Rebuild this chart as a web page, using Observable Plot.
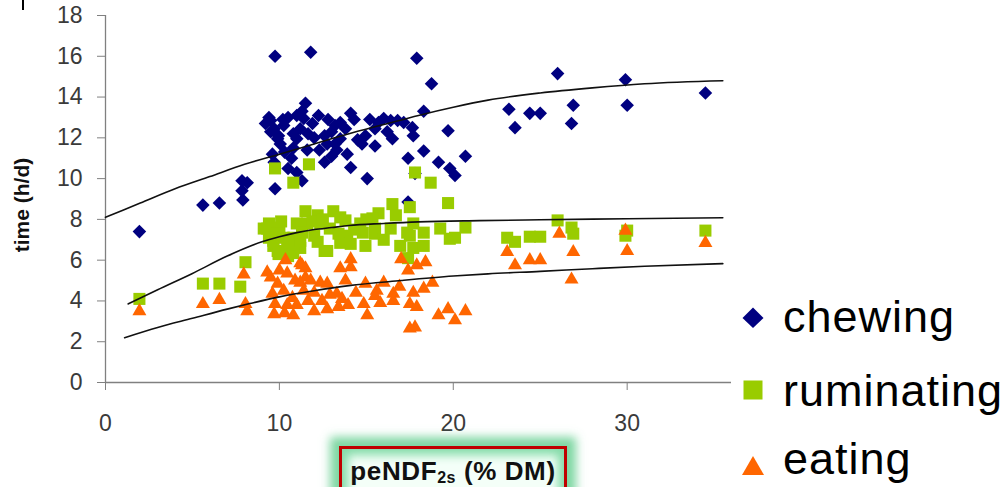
<!DOCTYPE html>
<html>
<head>
<meta charset="utf-8">
<script src="https://cdn.jsdelivr.net/npm/d3@7"></script>
<script src="https://cdn.jsdelivr.net/npm/@observablehq/plot@0.6"></script>
<style>
  html, body { margin: 0; padding: 0; background: #fff; }
  #wrap { position: relative; width: 1004px; height: 487px; overflow: hidden; font-family: "Liberation Sans", Arial, sans-serif; }
  #chart { position: absolute; left: 0; top: 0; }
  .ylab { position: absolute; left: 22px; top: 205px; transform: translate(-50%, -50%) rotate(-90deg); font-weight: bold; font-size: 21px; color: #111; white-space: nowrap; }
  .legrow { position: absolute; left: 783px; font-size: 45px; line-height: 45px; letter-spacing: 1px; color: #000; white-space: nowrap; }
  .legsym { position: absolute; }
  .xbox { position: absolute; left: 339px; top: 446px; width: 222px; height: 60px; border: 3px solid #c00000; background: #f4fff8;
          box-shadow: 0 0 9px 9px rgba(95, 205, 140, 0.8), inset 0 0 10px 6px rgba(120, 215, 160, 0.9); }
  .xlab { position: absolute; left: 339px; width: 228px; top: 458px; text-align: center; font-weight: bold; font-size: 26px; line-height: 26px; letter-spacing: 0.6px; color: #111; white-space: nowrap; }
  .xlab sub { font-size: 16px; vertical-align: -3px; }
  .corner { position: absolute; left: 22px; top: 0; width: 2px; height: 10px; background: #000; }
</style>
</head>
<body>
<div id="wrap">
  <div id="chart"></div>
  <div class="corner"></div>
  <div class="ylab">time (h/d)</div>
  <div class="xbox"></div>
  <div class="xlab">peNDF<sub>2s</sub> (% DM)</div>
  <svg class="legsym" style="left:740px;top:305px" width="26" height="26"><path d="M13,2.5 L23.5,13 L13,23 L2.5,13 Z" fill="#000080"/></svg>
  <div class="legrow" style="top:294px">chewing</div>
  <svg class="legsym" style="left:742px;top:379px" width="22" height="22"><rect x="1.5" y="1.5" width="19" height="19" fill="#99cc00"/></svg>
  <div class="legrow" style="top:368px">ruminating</div>
  <svg class="legsym" style="left:740px;top:454px" width="26" height="24"><path d="M13,2 L24,21 L2,21 Z" fill="#ff6600"/></svg>
  <div class="legrow" style="top:436px">eating</div>
</div>
<script>
// ---- Data ----
const xTicks = [0, 10, 20, 30];
const yTicks = [0, 2, 4, 6, 8, 10, 12, 14, 16, 18];

// chewing (navy diamonds)
const chewX = [1.95,5.6,6.55,7.9,7.85,8.15,7.85,9.75,9.75,11.8,9.4,9.2,9.7,9.5,10.25,9.95,10.05,9.9,11.0,11.5,11.4,11.2,11.65,12.25,11.0,10.8,10.7,11.6,10.5,11.0,11.3,9.7,12.6,12.75,12.6,13.2,13.5,14.1,13.8,13.5,13.2,13.3,13.9,14.1,15.05,14.95,14.75,15.5,15.5,15.7,16.0,16.4,16.8,17.15,17.65,17.7,16.5,18.3,18.75,17.9,19.7,17.4,18.3,19.15,19.8,20.1,20.7,17.8,17.4,26.0,29.9,23.2,23.55,24.4,25.0,26.9,26.8,30.0,34.5,9.5,10.5,10.8,12.0,12.3,13.0,14.3,11.9,10.3,10.2,12.8,13.0,14.5,16.2,15.2,11.3,9.6];
const chewY = [7.4,8.7,8.8,8.95,9.4,9.8,9.9,9.5,16.0,16.2,13.0,12.7,12.45,12.85,12.6,12.1,11.7,11.95,13.1,13.7,12.95,12.45,12.2,13.1,11.95,11.5,11.0,11.4,10.5,10.3,9.9,10.8,10.8,11.7,12.1,12.6,12.75,13.2,12.45,11.95,11.7,11.4,11.2,10.55,10.0,12.1,11.7,11.6,12.45,12.75,12.95,12.85,12.85,12.75,12.5,12.1,11.95,13.3,14.65,15.9,12.35,11.0,11.35,10.8,10.5,10.15,11.1,10.25,8.85,15.15,14.85,13.4,12.5,13.2,13.2,13.6,12.7,13.6,14.2,12.3,13.0,12.2,12.0,11.4,12.3,12.9,12.7,11.3,12.9,12.9,11.1,11.9,12.3,12.9,13.3,11.2];

// ruminating (green squares)
const rumX = [1.95,5.6,6.55,7.75,8.05,9.3,9.65,9.9,11.5,12.2,13.1,12.6,10.8,11.2,10.45,9.75,10.8,11.7,17.8,18.7,19.7,16.5,17.5,15.7,15.35,13.5,13.8,11.0,11.6,9.4,9.1,9.75,9.4,10.25,9.65,10.6,11.2,10.8,9.95,11.3,12.35,12.9,13.4,13.9,12.75,13.5,14.1,14.65,14.8,14.95,15.5,15.5,16.4,16.95,17.35,17.7,17.5,17.7,18.3,18.3,19.25,19.8,20.1,20.7,17.4,26.0,23.1,23.55,24.4,25.0,26.9,26.8,29.9,30.0,34.5,10.0,12.0,16.0,10.1,11.9,12.5,14.3,15.0,16.7,12.2,10.5,9.9];
const rumY = [4.1,4.85,4.85,4.7,5.9,7.55,6.95,6.45,8.4,8.2,8.4,6.45,7.1,6.6,6.8,10.5,9.8,10.7,10.3,9.8,8.8,8.75,8.6,8.3,8.05,8.1,7.95,7.8,7.8,7.8,7.55,7.6,7.1,7.1,6.7,6.7,6.95,6.35,6.3,7.35,7.8,7.55,7.3,7.2,6.45,6.85,6.8,7.8,7.35,6.7,7.3,7.55,7.55,6.7,7.35,7.8,7.2,6.6,7.35,6.7,7.55,7.05,7.1,7.6,6.1,7.95,7.1,6.9,7.15,7.15,7.3,7.6,7.2,7.45,7.45,7.4,7.2,7.0,7.9,7.9,8.0,7.5,8.0,8.2,6.9,6.2,7.3];

// eating (orange triangles)
const eatX = [1.95,5.6,6.55,7.95,8.05,8.15,10.35,14.1,14.1,13.5,17.0,17.4,17.9,18.4,18.8,18.3,17.7,17.5,17.9,16.55,16.55,16.0,15.6,15.5,14.95,14.85,15.05,19.15,19.7,20.1,20.7,17.5,17.8,9.3,9.5,9.9,9.6,9.75,9.7,10.8,11.2,11.5,11.5,11.2,11.8,11.4,11.65,10.75,11.0,12.35,12.75,12.45,12.75,13.3,13.6,13.8,13.4,13.95,10.25,10.45,10.45,11.3,23.1,23.55,24.4,25.0,26.1,26.9,26.8,29.9,30.0,34.5,10.0,10.9,12.0,12.9,14.4,16.9,10.3,12.0,15.8];
const eatY = [3.5,3.85,4.05,5.3,3.85,3.5,6.0,6.05,5.65,5.6,6.05,5.5,5.75,5.9,4.9,4.6,4.4,3.85,3.7,4.35,4.0,4.9,4.5,4.25,4.85,3.85,3.3,3.3,3.6,3.05,3.5,2.65,2.7,5.4,5.15,4.85,4.35,3.85,3.35,3.3,5.85,5.6,5.15,4.9,5.0,4.5,4.0,4.15,3.8,4.9,4.85,4.0,3.6,4.35,4.1,5.0,3.7,3.8,4.5,3.8,5.35,5.75,6.4,5.75,6.0,6.0,7.3,6.4,5.05,7.45,6.45,6.85,5.5,5.0,4.4,4.3,4.4,4.7,3.4,3.5,3.9];

// fitted curves
const chewCurveX = [0,2,4,6,8,10,12,14,16,18,20,22,25,28,31,35.5];
const chewCurveY = [8.1,8.8,9.5,10.1,10.7,11.2,11.7,12.2,12.65,13.1,13.5,13.85,14.2,14.45,14.65,14.8];
const rumCurveX = [1.3,3,5,7,9,10,11,12,13,14,16,18,21.5,25,30,35.5];
const rumCurveY = [3.85,4.55,5.35,6.2,6.9,7.15,7.35,7.5,7.6,7.7,7.8,7.88,7.94,7.98,8.03,8.08];
const eatCurveX = [1.1,3,5,7,8.3,10,12,14,17,20,22,25,28,31,35.5];
const eatCurveY = [2.2,2.7,3.15,3.6,3.87,4.2,4.5,4.75,5.0,5.22,5.33,5.45,5.58,5.7,5.83];

const pts = (xs, ys) => xs.map((x, i) => ({x, y: ys[i]}));

const chart = Plot.plot({
  width: 1004,
  height: 487,
  marginLeft: 105,
  marginRight: 273,
  marginTop: 15,
  marginBottom: 105,
  style: {fontFamily: '"Liberation Sans", Arial, sans-serif', fontSize: "23px", background: "transparent", overflow: "visible"},
  x: {domain: [0, 36]},
  y: {domain: [0, 18]},
  marks: [
    Plot.ruleY([0], {stroke: "#808080", strokeWidth: 1.3}),
    Plot.ruleX([0], {stroke: "#808080", strokeWidth: 1.3}),
    Plot.axisX({ticks: xTicks, tickSize: 8, tickPadding: 24, stroke: "#808080", fill: "#3a3a3a", label: null, tickFormat: d => String(d)}),
    Plot.axisY({ticks: yTicks, tickSize: 8, tickPadding: 15, stroke: "#808080", fill: "#3a3a3a", label: null, tickFormat: d => String(d)}),
    Plot.dot(pts(chewX, chewY), {x: "x", y: "y", symbol: "diamond2", r: 6.1, fill: "#000080", stroke: "none"}),
    Plot.dot(pts(rumX, rumY), {x: "x", y: "y", symbol: "square", r: 6.8, fill: "#99cc00", stroke: "none"}),
    Plot.dot(pts(eatX, eatY), {x: "x", y: "y", symbol: "triangle", r: 5.2, fill: "#ff6600", stroke: "none"}),
    Plot.line(pts(chewCurveX, chewCurveY), {x: "x", y: "y", curve: "monotone-x", stroke: "#111", strokeWidth: 1.6}),
    Plot.line(pts(rumCurveX, rumCurveY), {x: "x", y: "y", curve: "monotone-x", stroke: "#111", strokeWidth: 1.6}),
    Plot.line(pts(eatCurveX, eatCurveY), {x: "x", y: "y", curve: "monotone-x", stroke: "#111", strokeWidth: 1.6})
  ]
});
document.getElementById("chart").appendChild(chart);
</script>
</body>
</html>
